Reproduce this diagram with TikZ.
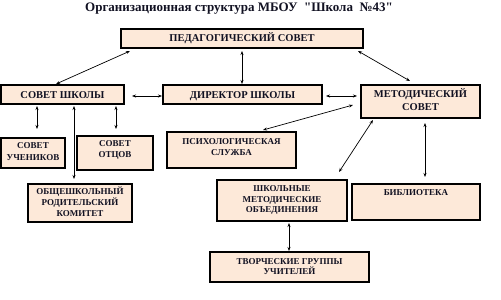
\documentclass[tikz,border=0pt]{standalone}
\usepackage{fontspec}
\setmainfont{Liberation Serif}
\newfontfamily\ttlfont{Liberation Serif}[Ligatures=TeXOff]
\usetikzlibrary{arrows.meta,calc}
\definecolor{boxfill}{HTML}{FDE9D9}
\definecolor{ink}{HTML}{111122}
\newcommand\bx[8]{% name, x1, y1, x2, y2, pad, font, text
  \node[orgbox, anchor=north west] (#1) at (#2,#3)
  {\parbox[t][\dimexpr #5pt-#3pt\relax][t]{\dimexpr #4pt-#2pt\relax}{\centering#7\rule{0pt}{#6pt}#8\par}};}
\begin{document}
\begin{tikzpicture}[x=1pt,y=-1pt,
  orgbox/.style={draw=black, line width=1.1pt, fill=boxfill, inner sep=0pt, outer sep=0pt, text=ink, font=\bfseries},
  link/.style={line width=0.7pt, {Stealth[length=4pt,width=3pt]}-{Stealth[length=4pt,width=3pt]}}]
\useasboundingbox (0,0) rectangle (501,300);
\node[font=\ttlfont\bfseries\fontsize{13}{15}\selectfont, text=ink, anchor=base, inner sep=0pt] (title) at (239,11) {Организационная структура МБОУ~~"Школа~~№43"};
\def\big{\fontsize{10.5}{13}\selectfont}
\def\sml{\fontsize{9}{11}\selectfont}
\def\smt{\fontsize{9}{10.3}\selectfont}
\bx{ped}{121}{29}{363}{48}{12}{\big}{ПЕДАГОГИЧЕСКИЙ СОВЕТ}
\bx{sov}{1}{85}{124}{104}{13.5}{\big}{СОВЕТ ШКОЛЫ}
\bx{dir}{163}{85}{322}{104}{13.5}{\big}{ДИРЕКТОР ШКОЛЫ}
\bx{met}{361}{85}{480}{118}{12.5}{\big}{МЕТОДИЧЕСКИЙ\\СОВЕТ}
\bx{uch}{1}{138}{65}{168}{10}{\fontsize{9}{12}\selectfont}{СОВЕТ\\УЧЕНИКОВ}
\bx{otc}{77}{136}{153}{170}{10}{\sml}{СОВЕТ\\ОТЦОВ}
\bx{obs}{28}{184}{132}{222}{10}{\sml}{ОБЩЕШКОЛЬНЫЙ\\РОДИТЕЛЬСКИЙ\\КОМИТЕТ}
\bx{psy}{167}{132}{296}{168}{12}{\sml}{ПСИХОЛОГИЧЕСКАЯ\\СЛУЖБА}
\bx{shm}{217}{180}{347}{221}{11.7}{\smt}{ШКОЛЬНЫЕ\\МЕТОДИЧЕСКИЕ\\ОБЪЕДИНЕНИЯ}
\bx{lib}{352}{184}{480}{220}{11}{\sml}{БИБЛИОТЕКА}
\bx{tvo}{210}{252}{369}{282}{12}{\smt}{ТВОРЧЕСКИЕ ГРУППЫ\\УЧИТЕЛЕЙ}
% connectors
\draw[link] ($(ped.south west)+(9,3)$) -- ($(sov.north west)+(55,-1)$);
\draw[link] ($(ped.south west)+(121,3)$) -- ($(dir.north west)+(79,-1)$);
\draw[link] ($(ped.south east)+(-5,3)$) -- ($(met.north west)+(49,-4)$);
\draw[link] ($(sov.south east)+(8,-8)$) -- ($(dir.south west)+(-1,-8)$);
\draw[link] ($(dir.south east)+(4,-8)$) -- ($(met.south west)+(-4,-22)$);
\draw[link] ($(met.north west)+(-8,20)$) -- ($(psy.north west)+(96,-2)$);
\draw[link] ($(met.south west)+(12,2)$) -- ($(shm.north west)+(122,-8)$);
\draw[link] ($(met.south west)+(64,5)$) -- ($(lib.north west)+(73,-7)$);
\draw[link] ($(shm.south west)+(72,2)$) -- ($(tvo.north west)+(79,-1)$);
\draw[link] ($(sov.south west)+(36,2)$) -- ($(uch.north west)+(36,-9)$);
\draw[link] ($(sov.south west)+(73,2)$) -- ($(obs.north west)+(46,-5)$);
\draw[link] ($(sov.south west)+(115,2)$) -- ($(otc.north west)+(39,-7)$);
\end{tikzpicture}
\end{document}
